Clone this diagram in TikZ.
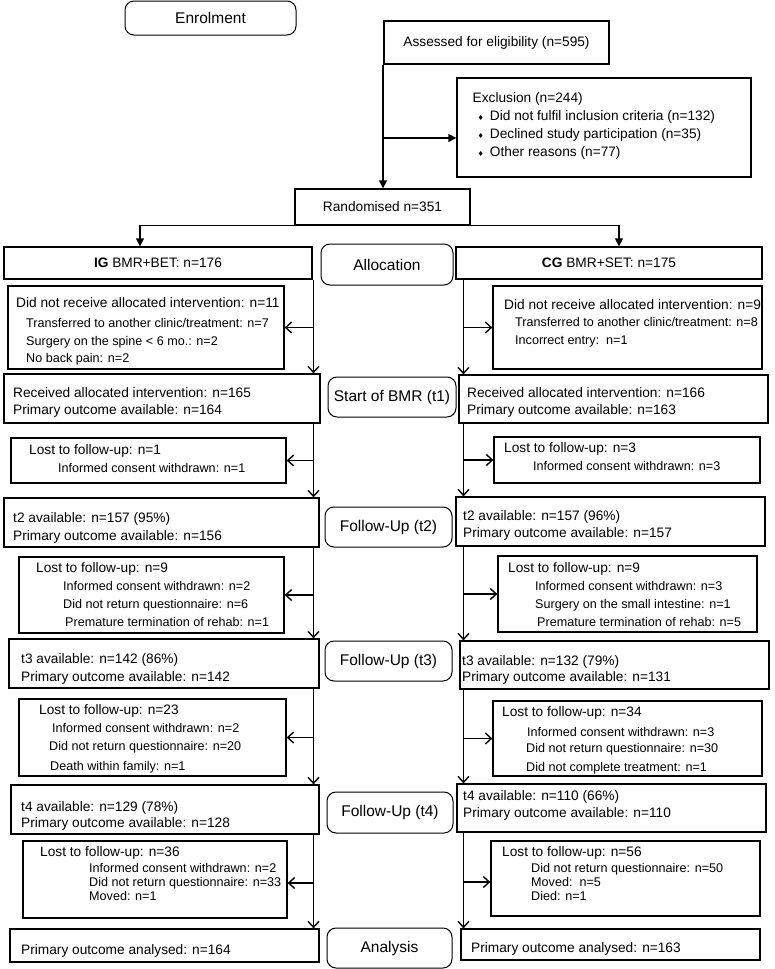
\documentclass[tikz,border=0pt]{standalone}
\usepackage{fontspec}
\setmainfont{Liberation Sans}
\newfontfamily\symfont{DejaVu Sans}
\usepackage{tikz}
\usetikzlibrary{arrows.meta,shadows}

\newcommand{\sub}[1]{{\fontsize{12.6}{18}\selectfont #1}}
\newcommand{\dia}{{\symfont\fontsize{7}{7}\selectfont ♦}}

\tikzset{
  box/.style={draw, line width=1.3pt, fill=white,
    drop shadow={shadow xshift=1.2pt, shadow yshift=-1.2pt, opacity=0.3}},
  stage/.style={draw, rounded corners=9pt, line width=1pt, fill=white,
    font=\fontsize{15.5}{18}\selectfont},
  txt/.style={anchor=north west, align=left, font=\fontsize{13.7}{18}\selectfont},
  flow/.style={line width=1.4pt, -{Straight Barb[length=6pt,width=11pt]}},
  flowfill/.style={line width=1.4pt, -{Triangle[length=8pt,width=8pt]}}
}

\begin{document}
\begin{tikzpicture}
[every node/.style={inner sep=0pt}]
\useasboundingbox (0pt, 0pt) rectangle (774pt, -969pt);
\coordinate (split) at (383pt, 0pt);
\coordinate (trunkL) at (313.5pt, 0pt);
\coordinate (trunkR) at (463.5pt, 0pt);
% enrolment
\node (enrol) [stage, minimum width=171pt, minimum height=34pt] at (210.5pt, -18pt) {Enrolment};
\node (assess) [box, minimum width=225pt, minimum height=43pt, font=\fontsize{13.7}{18}\selectfont] at (496.5pt, -42.5pt) {Assessed for eligibility (n=595)};
\node (excl) [box, minimum width=294pt, minimum height=99pt] at (604pt, -127.5pt) {};
\node (exclt) [txt] at (472.5pt, -92.5pt) {Exclusion (n=244)\\
  \hspace*{5pt}\dia\hspace{6pt}Did not fulfil inclusion criteria (n=132)\\
  \hspace*{5pt}\dia\hspace{6pt}Declined study participation (n=35)\\
  \hspace*{5pt}\dia\hspace{6pt}Other reasons (n=77)};
\node (rand) [box, minimum width=175pt, minimum height=36pt, font=\fontsize{13.7}{18}\selectfont] at (382.5pt, -207pt) {Randomised n=351};
\draw [flowfill] (assess.south -| split) -- (rand.north -| split);
\draw [flowfill] ([yshift=-10.5pt]excl.west -| split) -- ([yshift=-10.5pt]excl.west);
% allocation
\node (ig) [box, minimum width=308pt, minimum height=32pt, font=\fontsize{13.7}{18}\selectfont] at (158pt, -263pt) {\textbf{IG} BMR+BET: n=176};
\node (cg) [box, minimum width=306pt, minimum height=32pt, font=\fontsize{13.7}{18}\selectfont] at (609pt, -263pt) {\textbf{CG} BMR+SET: n=175};
\node (alloc) [stage, minimum width=132pt, minimum height=41pt] at (387pt, -264.5pt) {Allocation};
\draw [flowfill] (rand.south west) -| ([xshift=-18pt]ig.north);
\draw [flowfill] (rand.south east) -| ([xshift=10pt]cg.north);
\node (igx) [box, minimum width=276pt, minimum height=83pt] at (146pt, -327.5pt) {};
\node (igxt) [txt] at (16pt, -297.5pt) {Did not receive allocated intervention: n=11\\[1.5pt]
  \hspace*{10pt}\sub{Transferred to another clinic/treatment: n=7}\\
  \hspace*{10pt}\sub{Surgery on the spine < 6 mo.: n=2}\\[-1pt]
  \hspace*{10pt}\sub{No back pain: n=2}};
\node (cgx) [box, minimum width=269pt, minimum height=83pt] at (627.5pt, -327.5pt) {};
\node (cgxt) [txt] at (504pt, -299.5pt) {Did not receive allocated intervention: n=9\\[-1pt]
  \hspace*{11pt}\sub{Transferred to another clinic/treatment: n=8}\\
  \hspace*{11pt}\sub{Incorrect entry:\ \ n=1}};
% start of BMR (t1)
\node (igt1) [box, minimum width=316pt, minimum height=49pt] at (162pt, -398.5pt) {};
\node (igt1t) [txt] at (13pt, -387.5pt) {Received allocated intervention: n=165\\[-1pt]Primary outcome available: n=164};
\node (cgt1) [box, minimum width=309pt, minimum height=48pt] at (613.5pt, -399pt) {};
\node (cgt1t) [txt] at (467pt, -387.5pt) {Received allocated intervention: n=166\\[-1pt]Primary outcome available: n=163};
\node (st1) [stage, minimum width=128pt, minimum height=40pt] at (392pt, -397pt) {Start of BMR (t1)};
\node (igl1) [box, minimum width=275pt, minimum height=45pt] at (148.5pt, -460.5pt) {};
\node (igl1t) [txt] at (29pt, -444.5pt) {Lost to follow-up: n=1\\
  \hspace*{29pt}\sub{Informed consent withdrawn: n=1}};
\node (cgl1) [box, minimum width=266pt, minimum height=46pt] at (627pt, -460pt) {};
\node (cgl1t) [txt] at (504pt, -442.5pt) {Lost to follow-up: n=3\\
  \hspace*{29pt}\sub{Informed consent withdrawn: n=3}};
% follow-up (t2)
\node (igt2) [box, minimum width=315pt, minimum height=49pt] at (161.5pt, -522.5pt) {};
\node (igt2t) [txt] at (13pt, -512.5pt) {t2 available: n=157 (95\%)\\Primary outcome available: n=156};
\node (cgt2) [box, minimum width=309pt, minimum height=49pt] at (610.5pt, -521.5pt) {};
\node (cgt2t) [txt] at (463pt, -510.5pt) {t2 available: n=157 (96\%)\\[-1pt]Primary outcome available: n=157};
\node (st2) [stage, minimum width=127pt, minimum height=40pt] at (388.5pt, -527pt) {Follow-Up (t2)};
\node (igl2) [box, minimum width=265pt, minimum height=76pt] at (151.5pt, -595pt) {};
\node (igl2t) [txt] at (36pt, -562.5pt) {Lost to follow-up: n=9\\
  \hspace*{27pt}\sub{Informed consent withdrawn: n=2}\\
  \hspace*{27pt}\sub{Did not return questionnaire: n=6}\\
  \hspace*{29pt}\sub{Premature termination of rehab: n=1}};
\node (cgl2) [box, minimum width=259pt, minimum height=76pt] at (627.5pt, -594pt) {};
\node (cgl2t) [txt] at (508pt, -562.5pt) {Lost to follow-up: n=9\\
  \hspace*{27pt}\sub{Informed consent withdrawn: n=3}\\
  \hspace*{27pt}\sub{Surgery on the small intestine: n=1}\\
  \hspace*{29pt}\sub{Premature termination of rehab: n=5}};
% follow-up (t3)
\node (igt3) [box, minimum width=310pt, minimum height=49pt] at (164pt, -663.5pt) {};
\node (igt3t) [txt] at (21pt, -653.5pt) {t3 available: n=142 (86\%)\\Primary outcome available: n=142};
\node (cgt3) [box, minimum width=309pt, minimum height=48pt] at (614.5pt, -665pt) {};
\node (cgt3t) [txt] at (462pt, -655.5pt) {t3 available: n=132 (79\%)\\[-2pt]Primary outcome available: n=131};
\node (st3) [stage, minimum width=127pt, minimum height=40pt] at (388.5pt, -661pt) {Follow-Up (t3)};
\node (igl3) [box, minimum width=267pt, minimum height=77pt] at (152.5pt, -737.5pt) {};
\node (igl3t) [txt] at (39pt, -704.5pt) {Lost to follow-up: n=23\\
  \hspace*{13pt}\sub{Informed consent withdrawn: n=2}\\
  \hspace*{10pt}\sub{Did not return questionnaire: n=20}\\[1.5pt]
  \hspace*{11pt}\sub{Death within family: n=1}};
\node (cgl3) [box, minimum width=269pt, minimum height=75pt] at (627.5pt, -738.5pt) {};
\node (cgl3t) [txt] at (502pt, -706.5pt) {Lost to follow-up: n=34\\[1.5pt]
  \hspace*{25pt}\sub{Informed consent withdrawn: n=3}\\[-2pt]
  \hspace*{24pt}\sub{Did not return questionnaire: n=30}\\[1pt]
  \hspace*{24pt}\sub{Did not complete treatment: n=1}};
% follow-up (t4)
\node (igt4) [box, minimum width=308pt, minimum height=49pt] at (165pt, -809.5pt) {};
\node (igt4t) [txt] at (21pt, -801.5pt) {t4 available: n=129 (78\%)\\[-2pt]Primary outcome available: n=128};
\node (cgt4) [box, minimum width=309pt, minimum height=48pt] at (611.5pt, -808pt) {};
\node (cgt4t) [txt] at (463pt, -790.5pt) {t4 available: n=110 (66\%)\\[-1pt]Primary outcome available: n=110};
\node (st4) [stage, minimum width=126pt, minimum height=41pt] at (390pt, -812.5pt) {Follow-Up (t4)};
\node (igl4) [box, minimum width=264pt, minimum height=77pt] at (155pt, -879.5pt) {};
\node (igl4t) [txt, font=\fontsize{13.7}{14}\selectfont] at (40pt, -846.5pt) {Lost to follow-up: n=36\\[1.5pt]
  \hspace*{49pt}\sub{Informed consent withdrawn: n=2}\\
  \hspace*{49pt}\sub{Did not return questionnaire: n=33}\\
  \hspace*{49pt}\sub{Moved: n=1}};
\node (cgl4) [box, minimum width=269pt, minimum height=75pt] at (625.5pt, -878.5pt) {};
\node (cgl4t) [txt, font=\fontsize{13.7}{14}\selectfont] at (502pt, -846.5pt) {Lost to follow-up: n=56\\[2pt]
  \hspace*{29pt}\sub{Did not return questionnaire: n=50}\\
  \hspace*{29pt}\sub{Moved:\ \ n=5}\\
  \hspace*{29pt}\sub{Died: n=1}};
% analysis
\node (igan) [box, minimum width=309pt, minimum height=33pt] at (164.5pt, -945.5pt) {};
\node (igant) [txt] at (21pt, -944.5pt) {Primary outcome analysed: n=164};
\node (cgan) [box, minimum width=299pt, minimum height=31pt] at (610.5pt, -944.5pt) {};
\node (cgant) [txt] at (471pt, -942.5pt) {Primary outcome analysed: n=163};
\node (san) [stage, minimum width=125pt, minimum height=40pt] at (389.5pt, -948pt) {Analysis};
% trunks
\draw [flow] (ig.south -| trunkL) -- (igt1.north -| trunkL);
\draw [flow] (igt1.south -| trunkL) -- (igt2.north -| trunkL);
\draw [flow] (igt2.south -| trunkL) -- (igt3.north -| trunkL);
\draw [flow] (igt3.south -| trunkL) -- (igt4.north -| trunkL);
\draw [flow] (igt4.south -| trunkL) -- (igan.north -| trunkL);
\draw [flow] (cg.south -| trunkR) -- (cgt1.north -| trunkR);
\draw [flow] (cgt1.south -| trunkR) -- (cgt2.north -| trunkR);
\draw [flow] (cgt2.south -| trunkR) -- (cgt3.north -| trunkR);
\draw [flow] (cgt3.south -| trunkR) -- (cgt4.north -| trunkR);
\draw [flow] (cgt4.south -| trunkR) -- (cgan.north -| trunkR);
% losses
\draw [flow] (igx.east -| trunkL) -- (igx.east);
\draw [flow] (igl1.east -| trunkL) -- (igl1.east);
\draw [flow] (igl2.east -| trunkL) -- (igl2.east);
\draw [flow] (igl3.east -| trunkL) -- (igl3.east);
\draw [flow] ([yshift=-3.5pt]igl4.east -| trunkL) -- ([yshift=-3.5pt]igl4.east);
\draw [flow] (cgx.west -| trunkR) -- (cgx.west);
\draw [flow] (cgl1.west -| trunkR) -- (cgl1.west);
\draw [flow] (cgl2.west -| trunkR) -- (cgl2.west);
\draw [flow] (cgl3.west -| trunkR) -- (cgl3.west);
\draw [flow] ([yshift=-3.5pt]cgl4.west -| trunkR) -- ([yshift=-3.5pt]cgl4.west);
\end{tikzpicture}
\end{document}
